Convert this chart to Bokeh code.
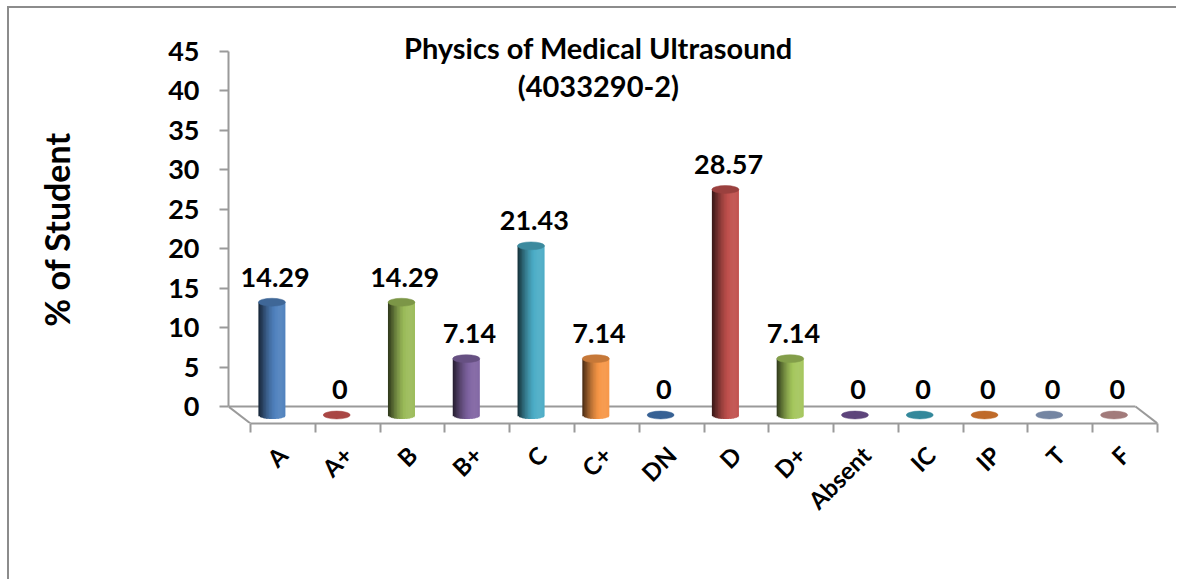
import math
from bokeh.plotting import figure
from bokeh.models import LinearAxis, FixedTicker, Range1d, ColumnDataSource
from bokeh.embed import file_html
from bokeh.resources import INLINE
from bokeh.core.properties import value

# ---------------- data ----------------
categories = ["A", "A+", "B", "B+", "C", "C+", "DN", "D", "D+", "Absent", "IC", "IP", "T", "F"]
percent = [14.29, 0, 14.29, 7.14, 21.43, 7.14, 0, 28.57, 7.14, 0, 0, 0, 0, 0]
value_labels = ["14.29", "0", "14.29", "7.14", "21.43", "7.14", "0", "28.57", "7.14", "0", "0", "0", "0", "0"]
bar_colors = ["#4F81BD", "#C0504D", "#9BBB59", "#8064A2", "#4BACC6", "#F79646", "#3E6EA8",
              "#C0504D", "#A4C65C", "#6A4D8C", "#3A9AB0", "#D9782F", "#8497B8", "#B88C8C"]
y_ticks = [0, 5, 10, 15, 20, 25, 30, 35, 40, 45]
title_lines = ["Physics of Medical Ultrasound", "(4033290-2)"]
y_title = "% of Student"

# ---------------- style constants ----------------
FONT = "Lato"
GRAY = "#9a9a9a"
DEPTH_X = 0.34      # 3-D depth of floor in category units
DEPTH_Y = 2.15      # 3-D depth of floor in value units
CYL_W = 0.417       # cylinder width (category units)
ELL_H = 1.0         # ellipse height (value units)
N_STRIPS = 18
LABEL_GAP = 2.1     # data label baseline above value (value units)

n = len(categories)
x_front_left = -0.5
x_front_right = n - 0.5
x_start = x_front_left - DEPTH_X
y_start = -DEPTH_Y
y_end = 47.0

p = figure(width=1169, height=573, output_backend="svg", toolbar_location=None,
           x_range=Range1d(x_start, x_front_right), y_range=Range1d(y_start, y_end),
           min_border_left=219, min_border_right=21, min_border_top=27, min_border_bottom=158,
           x_axis_type=None, y_axis_type=None)
p.grid.visible = False
p.outline_line_color = None
p.background_fill_color = "white"
p.border_fill_color = "white"
p.styles = {"margin-left": "7px", "margin-top": "6px",
            "border-top": "2px solid #8c8c8c", "border-left": "2px solid #8c8c8c"}


def shade(hx, f):
    r, g, b = int(hx[1:3], 16), int(hx[3:5], 16), int(hx[5:7], 16)
    out = []
    for c in (r, g, b):
        if f <= 1:
            c = c * f
        else:
            c = c + (255 - c) * (f - 1)
        out.append(max(0, min(255, int(round(c)))))
    return "#%02x%02x%02x" % tuple(out)


# ---------------- floor (3-D base) ----------------
p.segment(x0=[x_start, x_start, x_front_right - DEPTH_X],
          y0=[0, 0, 0],
          x1=[x_front_right - DEPTH_X, x_front_left, x_front_right],
          y1=[0, -DEPTH_Y, -DEPTH_Y],
          line_color=GRAY, line_width=2)

# ---------------- cylinders ----------------
base = -DEPTH_Y / 2
centers = [i - DEPTH_X / 2 for i in range(n)]
ql, qr, qb, qt, qc = [], [], [], [], []
for i, v in enumerate(percent):
    if v <= 0:
        continue
    cx = centers[i]
    sw = CYL_W / N_STRIPS
    for s in range(N_STRIPS):
        u = -1 + (2 * s + 1) / N_STRIPS
        t = (u + 1) / 2
        f = 0.28 + 0.78 * math.sin(math.pi * t * 0.62)
        left = cx - CYL_W / 2 + s * sw
        right = left + (sw * 1.7 if s < N_STRIPS - 1 else sw)
        ql.append(left)
        qr.append(right)
        qt.append(base + v)
        qb.append(base - (ELL_H / 2) * math.sqrt(max(0.0, 1 - u * u)))
        qc.append(shade(bar_colors[i], f))
p.quad(left=ql, right=qr, bottom=qb, top=qt, fill_color=qc, line_color=None)

top_src = ColumnDataSource(dict(
    x=centers,
    y=[base + v for v in percent],
    c=[shade(c, 0.8 if v > 0 else 0.88) for c, v in zip(bar_colors, percent)],
))
p.ellipse(x="x", y="y", width=CYL_W, height=ELL_H, fill_color="c", line_color="c",
          line_width=0.5, source=top_src)

# ---------------- data labels ----------------
p.text(x=[c + 0.05 for c in centers], y=[v + LABEL_GAP for v in percent], text=value_labels,
       text_font=value(FONT), text_font_style="bold", text_font_size="27px",
       text_color="black", text_align="center", text_baseline="alphabetic")

# ---------------- title (inside chart area) ----------------
p.text(x=[4.87, 4.87], y=[45.5, 40.7], text=title_lines,
       text_font=value(FONT), text_font_style="bold", text_font_size="29px",
       text_color="black", text_align="center", text_baseline="alphabetic")

# ---------------- axes ----------------
yaxis = LinearAxis(ticker=FixedTicker(ticks=y_ticks), bounds=(min(y_ticks), max(y_ticks)))
yaxis.axis_line_color = GRAY
yaxis.axis_line_width = 2
yaxis.major_tick_line_color = GRAY
yaxis.major_tick_line_width = 2
yaxis.major_tick_out = 9
yaxis.major_tick_in = 0
yaxis.minor_tick_line_color = None
yaxis.major_label_standoff = 20
yaxis.major_label_text_font = FONT
yaxis.major_label_text_font_style = "bold"
yaxis.major_label_text_font_size = "27px"
yaxis.major_label_text_color = "black"
yaxis.axis_label = y_title
yaxis.axis_label_text_font = FONT
yaxis.axis_label_text_font_style = "bold"
yaxis.axis_label_text_font_size = "34px"
yaxis.axis_label_text_color = "black"
yaxis.axis_label_standoff = 88
p.add_layout(yaxis, "left")

xaxis = LinearAxis(ticker=FixedTicker(ticks=list(range(n)),
                                      minor_ticks=[i - 0.5 for i in range(n + 1)]),
                   bounds=(x_front_left, x_front_right))
xaxis.major_label_overrides = {i: c for i, c in enumerate(categories)}
xaxis.axis_line_color = GRAY
xaxis.axis_line_width = 2
xaxis.major_tick_line_color = None
xaxis.major_tick_out = 0
xaxis.major_tick_in = 0
xaxis.minor_tick_line_color = GRAY
xaxis.minor_tick_line_width = 2
xaxis.minor_tick_out = 9
xaxis.minor_tick_in = 0
xaxis.major_label_orientation = math.pi / 4
xaxis.major_label_standoff = 18
xaxis.major_label_text_font = FONT
xaxis.major_label_text_font_style = "bold"
xaxis.major_label_text_font_size = "24px"
xaxis.major_label_text_color = "black"
p.add_layout(xaxis, "below")

open("out.html", "w").write(file_html(p, INLINE))
